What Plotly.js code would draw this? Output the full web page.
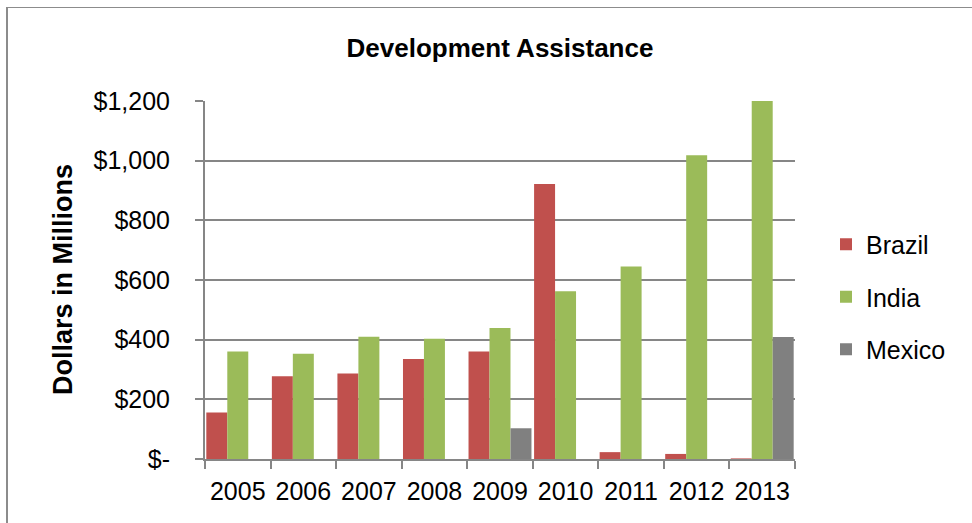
<!DOCTYPE html>
<html>
<head>
<meta charset="utf-8">
<script src="https://cdn.plot.ly/plotly-3.0.1.min.js"></script>
<style>
  html, body { margin: 0; padding: 0; background: #fff; }
  #wrap { position: relative; width: 972px; height: 523px; }
  #frame { position: absolute; left: 6px; top: 7px; width: 980px; height: 530px;
           border-left: 2px solid #8c8c8c; border-top: 1px solid #8c8c8c; pointer-events: none; }
  #chart { position: absolute; left: 0; top: 0; width: 972px; height: 523px; }
</style>
</head>
<body>
<div id="wrap">
  <div id="chart"></div>
  <div id="frame"></div>
</div>
<script>
const years = ['2005', '2006', '2007', '2008', '2009', '2010', '2011', '2012', '2013'];
const brazil = [156, 277, 287, 335, 360, 922, 23, 17, 2];
const india = [360, 353, 410, 403, 439, 562, 645, 1018, 1200];
const mexico = [0, 0, 0, 0, 103, 0, 0, 0, 409];
const yTickVals = [0, 200, 400, 600, 800, 1000, 1200];
const yTickText = ['$-', '$200', '$400', '$600', '$800', '$1,000', '$1,200'];

const FONT = 'Liberation Sans, Arial, sans-serif';

const traces = [
  { name: 'Brazil', y: brazil, color: '#C0504D' },
  { name: 'India', y: india, color: '#9BBB59' },
  { name: 'Mexico', y: mexico, color: '#808080' }
].map((s, i) => ({
  type: 'bar',
  x: years,
  y: s.y,
  name: s.name,
  legendgroup: 'g' + i,
  marker: { color: s.color, line: { width: 0 } },
  hoverinfo: 'x+y+name'
}));

const layout = {
  width: 972,
  height: 523,
  paper_bgcolor: '#ffffff',
  plot_bgcolor: '#ffffff',
  margin: { l: 205, r: 177, t: 101, b: 64, pad: 0 },
  barmode: 'group',
  bargap: 0.04,
  bargroupgap: 0,
  title: {
    text: '<b>Development Assistance</b>',
    font: { family: FONT, size: 26, color: '#000' },
    x: 0.5, xref: 'paper', xanchor: 'center',
    y: 1 - 48 / 523, yref: 'container', yanchor: 'middle'
  },
  xaxis: {
    type: 'category',
    showgrid: false,
    showline: true, linecolor: '#868686', linewidth: 2,
    ticks: 'outside', tickson: 'boundaries', ticklen: 8, tickwidth: 2, tickcolor: '#868686',
    tickangle: 0,
    ticklabelstandoff: 9,
    tickfont: { family: FONT, size: 25, color: '#000' },
    fixedrange: true
  },
  yaxis: {
    range: [0, 1200],
    tickvals: yTickVals,
    ticktext: yTickText,
    showgrid: true, gridcolor: '#868686', gridwidth: 2,
    showline: true, linecolor: '#868686', linewidth: 2,
    zeroline: false,
    ticks: 'outside', ticklen: 8, tickwidth: 2, tickcolor: '#868686',
    ticklabelstandoff: 20,
    tickfont: { family: FONT, size: 25, color: '#000' },
    title: { text: '' },
    fixedrange: true
  },
  legend: {
    x: (826 - 205) / 590, xanchor: 'left',
    y: (459 - 297) / 358, yanchor: 'middle',
    font: { family: FONT, size: 25, color: '#000' },
    tracegroupgap: 17,
    bgcolor: 'rgba(0,0,0,0)'
  },
  annotations: [{
    text: '<b>Dollars in Millions</b>',
    xref: 'paper', yref: 'paper',
    x: (63 - 205) / 590, y: (459 - 280) / 358,
    xanchor: 'center', yanchor: 'middle',
    textangle: -90,
    showarrow: false,
    font: { family: FONT, size: 27, color: '#000' }
  }]
};

Plotly.newPlot('chart', traces, layout, { displayModeBar: false, staticPlot: true });
</script>
</body>
</html>
